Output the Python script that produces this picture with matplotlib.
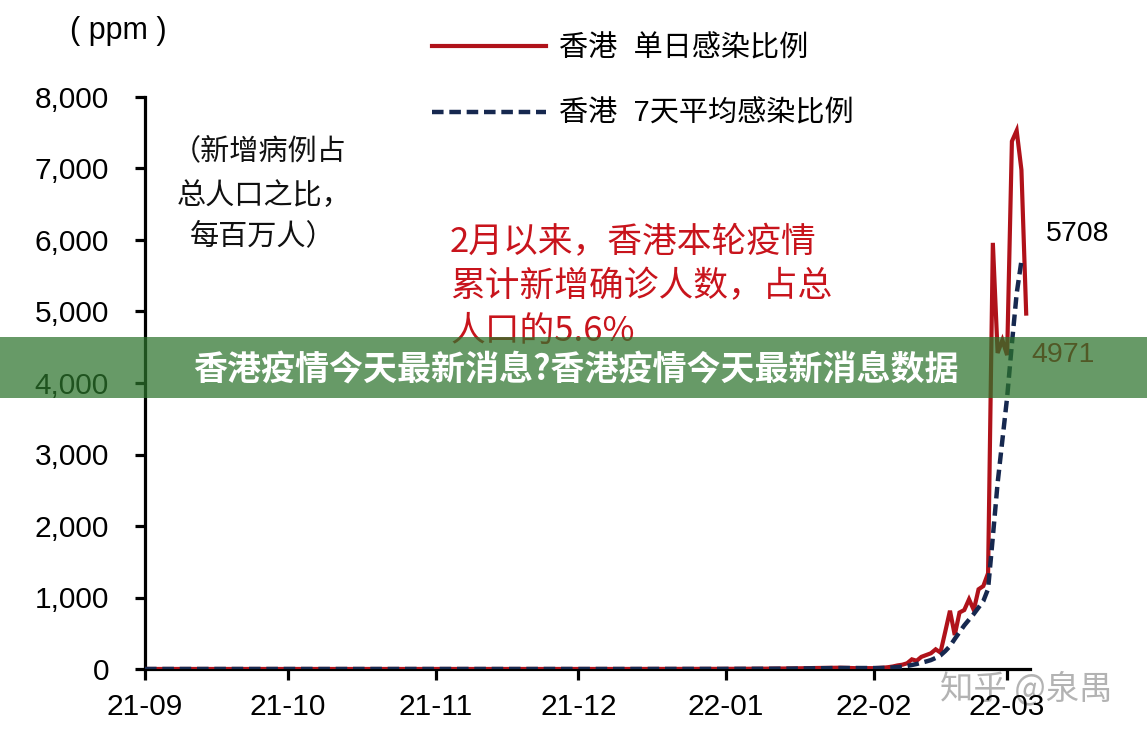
import numpy as np
import matplotlib
matplotlib.use('Agg')
import matplotlib.pyplot as plt
import matplotlib.dates as mdates
from matplotlib.lines import Line2D
from matplotlib.patches import Rectangle

plt.rcParams['font.family'] = ['Liberation Sans', 'Noto Sans CJK SC', 'DejaVu Sans']

# dates (sparse while flat, daily from February)
dates = ['2021-09-01', '2021-09-20', '2021-10-10', '2021-10-30', '2021-11-20',
         '2021-12-10', '2021-12-31', '2022-01-08', '2022-01-15', '2022-01-20',
         '2022-01-25', '2022-01-28',
         '2022-02-01', '2022-02-02', '2022-02-03', '2022-02-04', '2022-02-05',
         '2022-02-06', '2022-02-07', '2022-02-08', '2022-02-09', '2022-02-10',
         '2022-02-11', '2022-02-12', '2022-02-13', '2022-02-14', '2022-02-15',
         '2022-02-16', '2022-02-17', '2022-02-18', '2022-02-19', '2022-02-20',
         '2022-02-21', '2022-02-22', '2022-02-23', '2022-02-24', '2022-02-25',
         '2022-02-26', '2022-02-27', '2022-02-28', '2022-03-01', '2022-03-02',
         '2022-03-03', '2022-03-04', '2022-03-05']

# 香港 单日感染比例 (ppm)
daily = [0.5, 0.5, 0.3, 0.5, 0.4,
         0.6, 2, 4, 8, 14,
         18, 12,
         12, 15, 18, 25, 35,
         50, 60, 80, 135, 115,
         170, 195, 220, 275, 230,
         520, 815, 475, 790, 825,
         975, 825, 1115, 1160, 1340,
         5960, 4420, 4600, 4390, 7380,
         7530, 6980, 4971]

# 香港 7天平均感染比例 (ppm), last point 03-04
avg7 = [0.5, 0.5, 0.3, 0.5, 0.4,
        0.5, 1.5, 3, 6, 10,
        14, 14,
        13, 14, 16, 18, 22,
        27, 33, 42, 56, 70,
        88, 105, 125, 155, 190,
        250, 320, 420, 515, 610,
        690, 770, 860, 950, 1120,
        1850, 2600, 3200, 3800, 4550,
        5250, 5708]

month_ticks = ['2021-09-01', '2021-10-01', '2021-11-01', '2021-12-01',
               '2022-01-01', '2022-02-01', '2022-03-01']
month_labels = ['21-09', '21-10', '21-11', '21-12', '22-01', '22-02', '22-03']
y_ticks = [0, 1000, 2000, 3000, 4000, 5000, 6000, 7000, 8000]
y_labels = ['0', '1,000', '2,000', '3,000', '4,000', '5,000', '6,000', '7,000', '8,000']

x = mdates.datestr2num(dates)
xt = mdates.datestr2num(month_ticks)

RED = '#B0121A'
NAVY = '#16284F'

fig = plt.figure(figsize=(11.47, 7.37), dpi=100)
W, H = 1147, 737
ax = fig.add_axes([145 / W, 1 - 669 / H, (1030 - 145) / W, (669 - 97) / H])
ax.patch.set_visible(False)

ax.plot(x, daily, color=RED, lw=3.0, solid_joinstyle='miter', zorder=3)
ax.plot(x[:len(avg7)], avg7, color=NAVY, lw=3.2, dashes=(2.6, 1.3), zorder=4)

ax.set_xlim(mdates.datestr2num('2021-09-01'), mdates.datestr2num('2022-03-05') + 0.8)
ax.set_ylim(0, 8000)
ax.set_xticks(xt)
ax.set_xticklabels(month_labels)
ax.set_yticks(y_ticks)
ax.set_yticklabels(y_labels)

for s in ['top', 'right']:
    ax.spines[s].set_visible(False)
for s in ['left', 'bottom']:
    ax.spines[s].set_linewidth(2.3)
ax.tick_params(axis='x', length=8, width=2.3, pad=9, labelsize=21.5)
ax.tick_params(axis='y', length=7, width=2.3, pad=19, labelsize=21.5)

# end labels
ax.annotate('5708', (x[len(avg7) - 1], avg7[-1]), xytext=(24, 27),
            textcoords='offset pixels', fontsize=20.5, color='black', va='center', ha='left')
ax.annotate('4971', (x[-1], daily[-1]), xytext=(5, -41),
            textcoords='offset pixels', fontsize=20.5, color=RED, va='center', ha='left')

# legend
handles = [Line2D([], [], color=RED, lw=3.0),
           Line2D([], [], color=NAVY, lw=3.2, dashes=(2.6, 1.3))]
fig.legend(handles, ['香港  单日感染比例', '香港  7天平均感染比例'],
           loc='upper left', bbox_to_anchor=(432 / W, 1 - 34 / H), frameon=False,
           borderpad=0, borderaxespad=0, handlelength=3.9, handletextpad=0.45,
           labelspacing=1.3, prop={'weight': 'light', 'size': 21})

fig.text(118 / W, 1 - 31 / H, '( ppm )', fontsize=22, ha='center', va='center')

note_lines = ['（新增病例占', '总人口之比，', '每百万人）']
note_x = [172, 177, 190]
note_y = [151, 196, 236]
for t, nx, ny in zip(note_lines, note_x, note_y):
    fig.text(nx / W, 1 - ny / H, t, fontsize=21, ha='left', va='center', fontweight='light',
             family=['Noto Sans CJK SC'], color='#111111')

red_lines = ['2月以来，香港本轮疫情', '累计新增确诊人数，占总', '人口的5.6%']
red_y = [243, 287, 331]
for t, ry in zip(red_lines, red_y):
    fig.text(450 / W, 1 - ry / H, t, fontsize=25, ha='left', va='center', fontweight='light',
             family=['Noto Sans CJK SC'], color='#C8141C')

# watermark
fig.text(940 / W, 1 - 689 / H, '知乎 @泉禺', fontsize=24, ha='left', va='center',
         family=['Noto Sans CJK SC'], color='#9a9a9a', alpha=0.75, zorder=-1)

# green banner
fig.patches.append(Rectangle((0, 1 - 398 / H), 1, 61 / H, transform=fig.transFigure,
                             facecolor='#2C742C', alpha=0.72, edgecolor='none', zorder=10))
fig.text(576 / W, 1 - 369 / H, '香港疫情今天最新消息?香港疫情今天最新消息数据',
         fontsize=24.5, fontweight='bold', color='white', ha='center', va='center',
         family=['Noto Sans CJK SC'], zorder=11)

fig.savefig('out.png', dpi=100)
